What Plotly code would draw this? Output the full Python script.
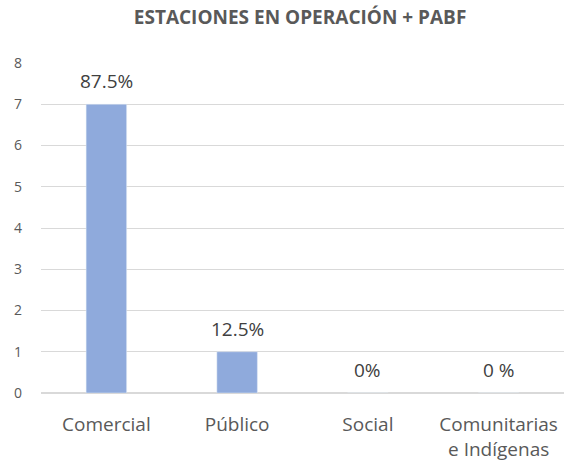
import plotly.graph_objects as go

categories = ["Comercial", "Público", "Social", "Comunitarias<br>e Indígenas"]
values = [7, 1, 0, 0]
labels = ["87.5%", "12.5%", "0%", "0 %"]
y_ticks = [0, 1, 2, 3, 4, 5, 6, 7, 8]

fig = go.Figure(go.Bar(
    x=categories, y=values,
    marker=dict(color="#8FAADC"),
))
for c, v, t in zip(categories, values, labels):
    fig.add_annotation(x=c, y=v, text=t, showarrow=False, yanchor="bottom",
                       yshift=8, font=dict(size=19, color="#404040"))
fig.update_layout(
    width=564, height=464,
    margin=dict(l=41, r=0, t=63, b=71),
    paper_bgcolor="white", plot_bgcolor="white",
    font=dict(family="Open Sans, sans-serif", color="#595959"),
    title=dict(text="<b>ESTACIONES EN OPERACIÓN + PABF</b>", x=0.532, xanchor="center",
               y=0.962, yanchor="middle", font=dict(size=19, color="#595959")),
    bargap=0.69, showlegend=False,
)
fig.update_yaxes(range=[0, 8], tickvals=y_ticks, showgrid=True, gridcolor="#D9D9D9",
                 gridwidth=1, zeroline=True, zerolinecolor="#D9D9D9",
                 tickfont=dict(size=14, color="#595959"), ticklabelstandoff=18,
                 automargin=False)
fig.update_xaxes(tickfont=dict(size=19, color="#595959"), showline=False,
                 ticklabelstandoff=18, automargin=False)
fig.write_html("out.html", config={"displayModeBar": False},
               post_script="document.body.style.margin='0';")
